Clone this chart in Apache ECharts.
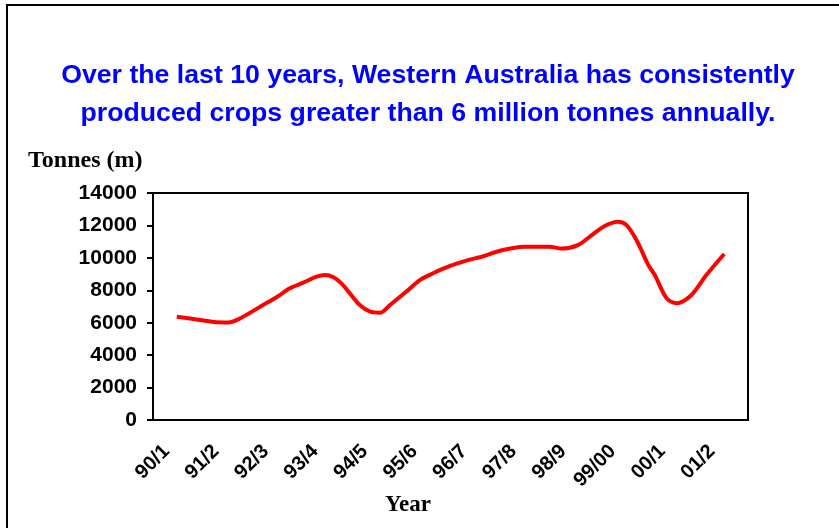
<!DOCTYPE html>
<html>
<head>
<meta charset="utf-8">
<script src="https://cdn.jsdelivr.net/npm/echarts@6/dist/echarts.min.js"></script>
<style>
  html, body { margin: 0; padding: 0; background: #fff; }
  #chart { width: 839px; height: 528px; }
</style>
</head>
<body>
<div id="chart"></div>
<script>
// 年度标签（财政年）
const yearLabels = ["90/1", "91/2", "92/3", "93/4", "94/5", "95/6", "96/7", "97/8", "98/9", "99/00", "00/1", "01/2"];
// 曲线上的点：位置按年度序号计（0.5 = 第一个年度的中间）
const curvePos = [0.48, 0.95, 1.28, 1.52, 1.72, 1.96, 2.22, 2.49, 2.76, 3.03, 3.30, 3.47, 3.64, 3.80, 3.97,
  4.17, 4.38, 4.58, 4.78, 5.11, 5.38, 5.65, 5.99, 6.32, 6.66, 7.00, 7.47, 8.00, 8.24, 8.57, 8.81,
  9.11, 9.38, 9.55, 9.75, 9.99, 10.12, 10.36, 10.56, 10.86, 11.16, 11.52];
const curveTonnes = [6370, 6170, 6030, 6020, 6210, 6620, 7090, 7570, 8120, 8470, 8840, 8940, 8800, 8430, 7810,
  7090, 6680, 6620, 7090, 7920, 8630, 9050, 9500, 9830, 10100, 10440, 10690, 10690, 10570, 10790, 11310,
  11960, 12230, 12020, 11100, 9560, 8940, 7500, 7200, 7710, 8940, 10240];
const yTicks = [0, 2000, 4000, 6000, 8000, 10000, 12000, 14000];

const chart = echarts.init(document.getElementById("chart"));

const option = {
  animation: false,
  title: {
    text: "Over the last 10 years, Western Australia has consistently\nproduced crops greater than 6 million tonnes annually.",
    left: 428,
    top: 57,
    padding: 0,
    textAlign: "center",
    textStyle: {
      color: "#0000ff",
      fontFamily: "Arial, 'Liberation Sans', sans-serif",
      fontWeight: "bold",
      fontSize: 26.7,
      lineHeight: 38
    }
  },
  grid: {
    left: 153,
    right: 91,
    top: 193,
    bottom: 108,
    show: true,
    borderColor: "#000",
    borderWidth: 2,
    containLabel: false
  },
  xAxis: [
    {
      type: "category",
      data: yearLabels,
      boundaryGap: true,
      axisLine: { lineStyle: { color: "#000", width: 2 } },
      axisTick: { alignWithLabel: false, length: 7, lineStyle: { color: "#000", width: 2 } },
      axisLabel: {
        rotate: 45,
        interval: 0,
        margin: 17,
        padding: [0, 16, 0, 0],
        color: "#000",
        fontFamily: "Arial, 'Liberation Sans', sans-serif",
        fontWeight: "bold",
        fontSize: 20
      }
    },
    {
      type: "value",
      min: 0,
      max: 12,
      show: false
    }
  ],
  yAxis: {
    type: "value",
    min: 0,
    max: 14000,
    interval: 2000,
    splitLine: { show: false },
    axisLine: { show: true, lineStyle: { color: "#000", width: 2 } },
    axisTick: { show: true, length: 6, lineStyle: { color: "#000", width: 2 } },
    axisLabel: {
      margin: 16,
      color: "#000",
      fontFamily: "Arial, 'Liberation Sans', sans-serif",
      fontWeight: "bold",
      fontSize: 21,
      formatter: (v) => (yTicks.includes(v) ? String(v) : "")
    }
  },
  graphic: [
    // 外框（左、上）
    { type: "line", shape: { x1: 7, y1: 5, x2: 7, y2: 528 }, style: { stroke: "#000", lineWidth: 2 } },
    { type: "line", shape: { x1: 6, y1: 5, x2: 839, y2: 5 }, style: { stroke: "#000", lineWidth: 2 } },
    {
      type: "text", left: 28, top: 149,
      style: { text: "Tonnes (m)", fill: "#000", font: "bold 24px 'Times New Roman', 'Liberation Serif', serif" }
    },
    {
      type: "text", left: 385, top: 494,
      style: { text: "Year", fill: "#000", font: "bold 23px 'Times New Roman', 'Liberation Serif', serif" }
    }
  ],
  series: [
    {
      type: "line",
      xAxisIndex: 1,
      data: curvePos.map((p, i) => [p, curveTonnes[i]]),
      smooth: 0.3,
      showSymbol: false,
      lineStyle: { color: "#ff0000", width: 4 }
    }
  ]
};

chart.setOption(option);
</script>
</body>
</html>
